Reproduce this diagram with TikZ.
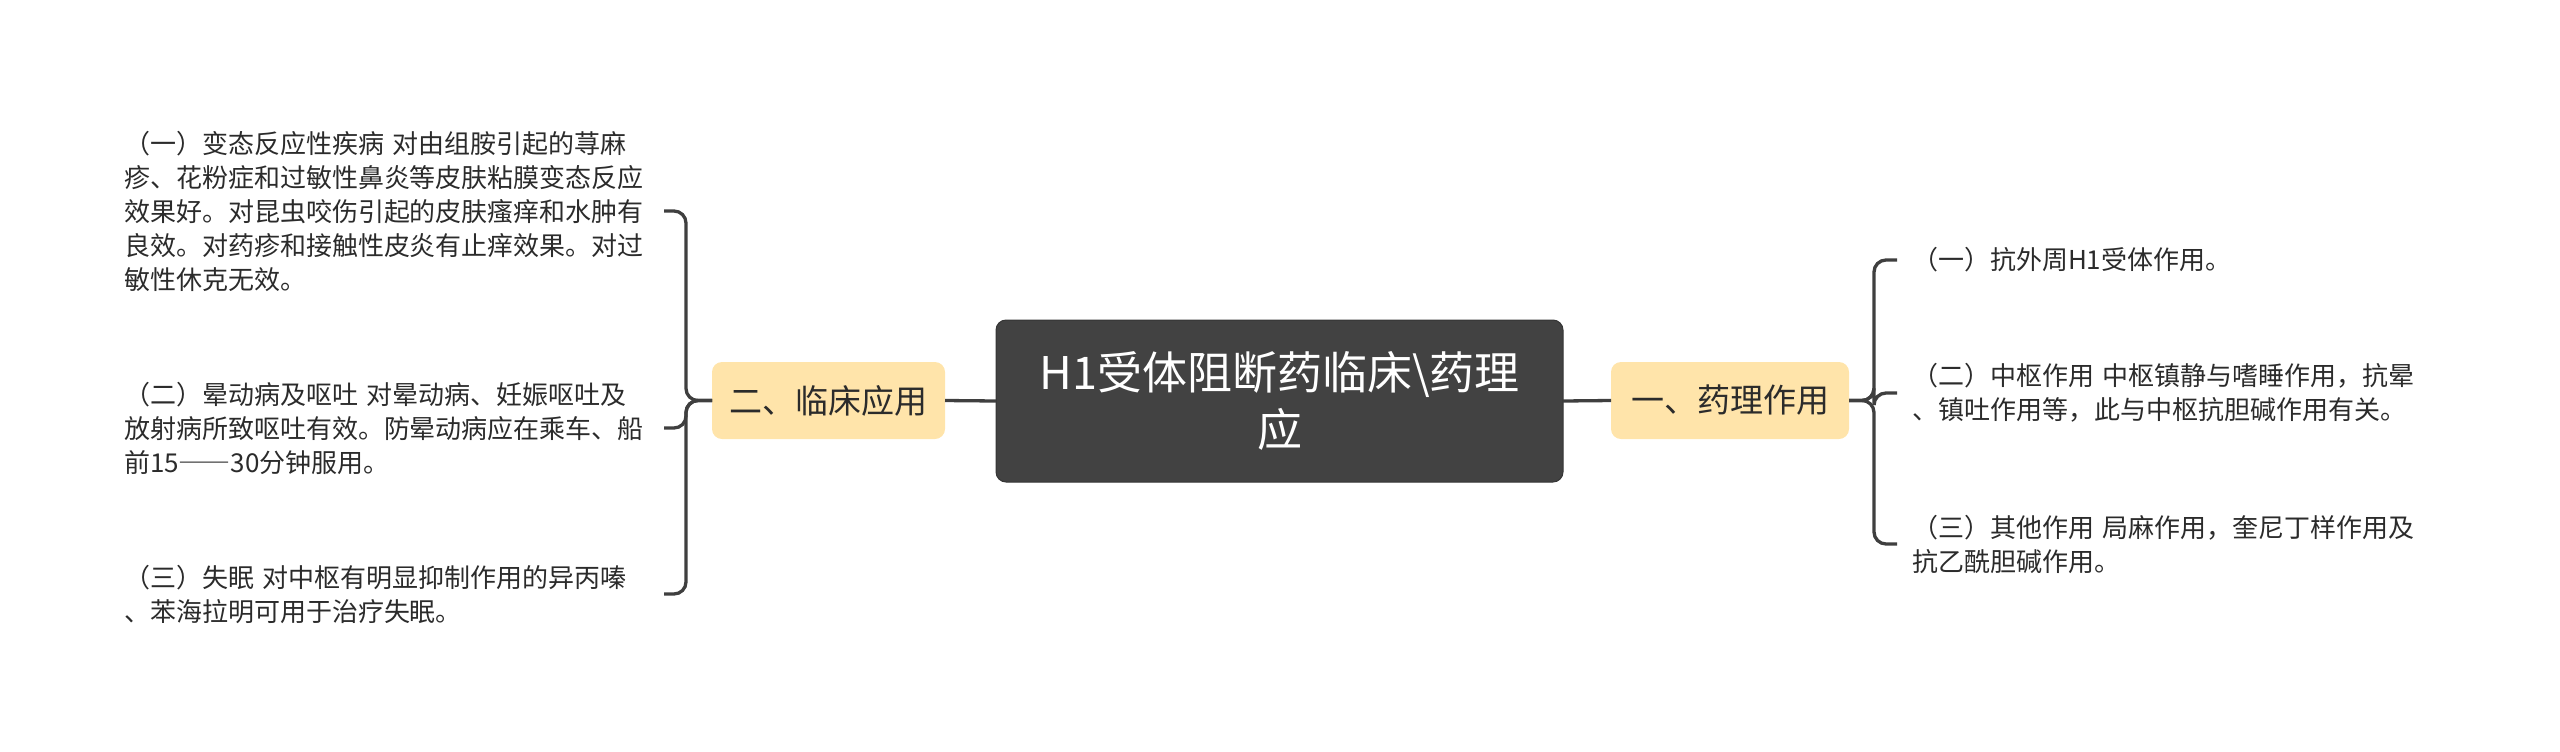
\documentclass[tikz,border=0pt]{standalone}
\usepackage{fontspec}
\setmainfont{Noto Sans CJK SC}
\definecolor{rootc}{HTML}{424242}
\definecolor{rootd}{HTML}{353535}
\definecolor{bfill}{HTML}{FFE4AA}
\definecolor{linec}{HTML}{3F3F3F}
\definecolor{txt}{HTML}{2B2B2B}
\begin{document}
\begin{tikzpicture}[x=0.5pt,y=-0.5pt,
  every node/.style={inner sep=0pt, outer sep=0pt},
  conn/.style={draw=linec, line width=1.65pt, rounded corners=6pt},
  leafL/.style={anchor=west, text width=262pt, inner xsep=8pt, align=left, font=\fontsize{13}{17}\selectfont, text=txt},
  leafR/.style={anchor=west, text width=262pt, inner xsep=7.5pt, align=left, font=\fontsize{13}{17}\selectfont, text=txt},
  branch/.style={fill=bfill, rounded corners=5pt, minimum height=38.5pt, font=\fontsize{16.5}{20}\selectfont, text=txt},
  root/.style={fill=rootc, draw=rootd, line width=0.5pt, rounded corners=5pt, minimum width=283.5pt, minimum height=81pt, align=center, text=white, font=\fontsize{22.5}{28.5}\selectfont}]
\useasboundingbox (0,0) rectangle (2560,751);
\node[root] (C) at (1279.5,401) {H1受体阻断药临床\textbackslash 药理\\应};
\node[branch, minimum width=116.5pt] (L) at (828.5,400.5) {二、临床应用};
\node[branch, minimum width=119pt] (R) at (1730,400.5) {一、药理作用};
% left leaves
\node[leafL] (l1) at (108,211) {（一）变态反应性疾病 对由组胺引起的荨麻\\疹、花粉症和过敏性鼻炎等皮肤粘膜变态反应\\效果好。对昆虫咬伤引起的皮肤瘙痒和水肿有\\良效。对药疹和接触性皮炎有止痒效果。对过\\敏性休克无效。};
\node[leafL] (l2) at (108,428) {（二）晕动病及呕吐 对晕动病、妊娠呕吐及\\放射病所致呕吐有效。防晕动病应在乘车、船\\前15{\addfontfeature{RawFeature=+fwid}——}30分钟服用。};
\node[leafL] (l3) at (108,594) {（三）失眠 对中枢有明显抑制作用的异丙嗪\\、苯海拉明可用于治疗失眠。};
% right leaves
\node[leafR] (r1) at (1897,260) {（一）抗外周H1受体作用。};
\node[leafR] (r2) at (1897,393) {（二）中枢作用 中枢镇静与嗜睡作用，抗晕\\、镇吐作用等，此与中枢抗胆碱作用有关。};
\node[leafR] (r3) at (1897,544) {（三）其他作用 局麻作用，奎尼丁样作用及\\抗乙酰胆碱作用。};
% connectors
\draw[conn] (C.west) -- (L.east);
\draw[conn] (C.east) -- (R.west);
\draw[conn] (L.west) -- ++(-26,0) |- (l1.east);
\draw[conn] (L.west) -- ++(-26,0) |- (l2.east);
\draw[conn] (L.west) -- ++(-26,0) |- (l3.east);
\draw[conn] (R.east) -- ++(25,0) |- (r1.west);
\draw[conn] (R.east) -- ++(25,0) |- (r2.west);
\draw[conn] (R.east) -- ++(25,0) |- (r3.west);
\end{tikzpicture}
\end{document}
